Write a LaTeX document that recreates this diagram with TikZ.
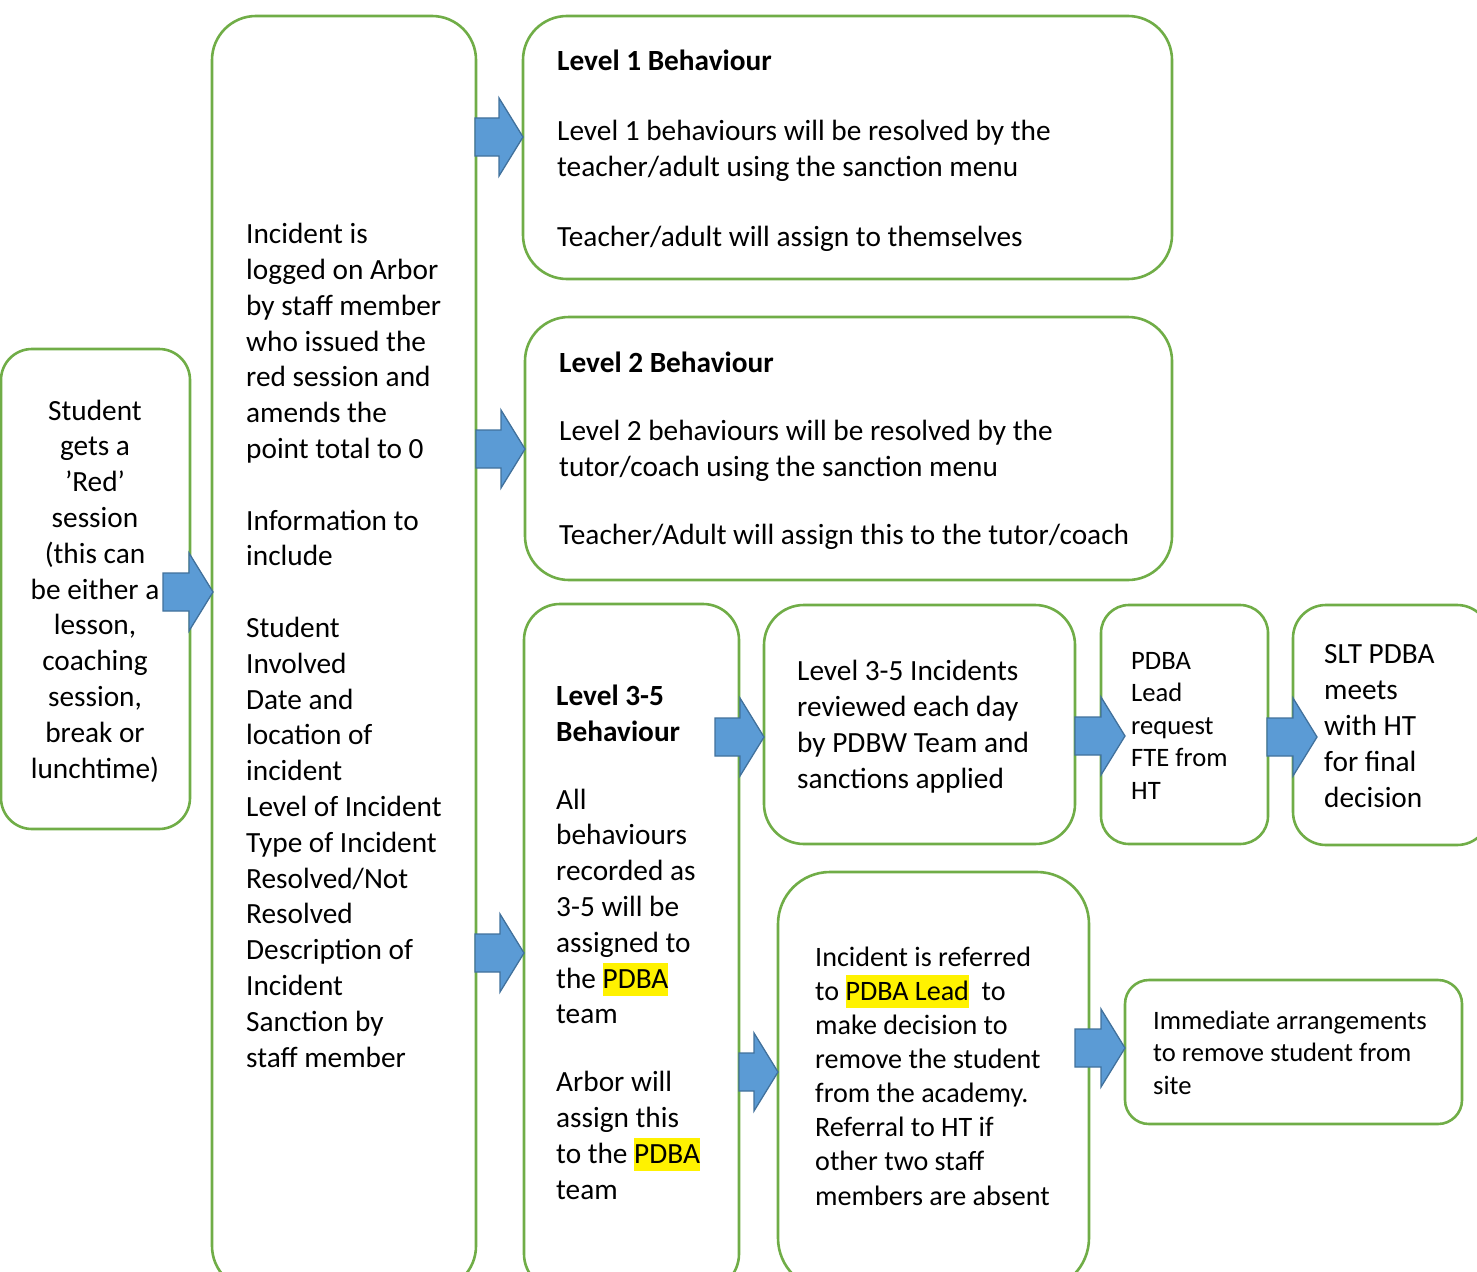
\documentclass[tikz,border=0pt]{standalone}
\usepackage{fontspec}
\setmainfont{Carlito}
\usetikzlibrary{calc}
\definecolor{grn}{HTML}{70AD47}
\definecolor{afill}{HTML}{5B9BD5}
\definecolor{aline}{HTML}{41719C}
\tikzset{
  box/.style={draw=grn, line width=2.6pt, fill=white, inner sep=0pt, outer sep=0pt},
  txt/.style={anchor=base west, inner sep=0pt, align=left, font=\fontsize{29.3}{35.8}\selectfont},
  smalltxt/.style={txt, font=\fontsize{26.6}{32.5}\selectfont},
  blockarrow/.style={fill=afill, draw=aline, line width=1.3pt, line join=miter},
}
\newcommand\hl[1]{{\setlength{\fboxsep}{0pt}\colorbox{yellow}{\rule[-8pt]{0pt}{33pt}#1}}}
\newcommand\barrow[2]{%
  \draw[blockarrow, shift={(#1)}] (-#2,-19) -- (-24,-19) -- (-24,-39) -- (0,0) -- (-24,39) -- (-24,19) -- (-#2,19) -- cycle;}
\begin{document}
\begin{tikzpicture}[x=1pt,y=-1pt]
\useasboundingbox (0,0) rectangle (1477,1271);
\clip (0,0) rectangle (1477,1271);
% boxes
\node[box, rounded corners=31pt, minimum width=189pt, minimum height=480pt] (A) at (95.5,589) {};
\node[box, rounded corners=44pt, minimum width=264pt, minimum height=1274pt] (B) at (344,653) {};
\node[box, rounded corners=44pt, minimum width=649pt, minimum height=263pt] (L1) at (847.5,147.5) {};
\node[box, rounded corners=44pt, minimum width=647pt, minimum height=263pt] (L2) at (848.5,448.5) {};
\node[box, rounded corners=36pt, minimum width=215pt, minimum height=686pt] (L3) at (631.5,947) {};
\node[box, rounded corners=40pt, minimum width=311pt, minimum height=239pt] (Rev) at (919.5,724.5) {};
\node[box, rounded corners=28pt, minimum width=167pt, minimum height=239pt] (Lead) at (1184.5,724.5) {};
\node[box, rounded corners=33pt, minimum width=197pt, minimum height=240pt] (SLT) at (1391.5,725) {};
\node[box, rounded corners=52pt, minimum width=311pt, minimum height=418pt] (Ref) at (933.5,1081) {};
\node[box, rounded corners=24pt, minimum width=337pt, minimum height=144pt] (Imm) at (1293.5,1052) {};
% texts (base anchor = baseline of last line)
\node[txt, anchor=base, align=center] (At) at (95,778) {Student\\gets a\\’Red’\\session\\(this can\\be either a\\lesson,\\coaching\\session,\\break or\\lunchtime)};
\node[txt] (Bt) at (246,1067) {Incident is\\logged on Arbor\\by staff member\\who issued the\\red session and\\amends the\\point total to 0\\[35.8pt]Information to\\include\\[35.8pt]Student\\Involved\\Date and\\location of\\incident\\Level of Incident\\Type of Incident\\Resolved/Not\\Resolved\\Description of\\Incident\\Sanction by\\staff member};
\node[txt] (L1t) at (557,246) {\textbf{Level 1 Behaviour}\\[34pt]Level 1 behaviours will be resolved by the\\teacher/adult using the sanction menu\\[34pt]Teacher/adult will assign to themselves};
\node[txt] (L2t) at (559,544) {\textbf{Level 2 Behaviour}\\[32pt]Level 2 behaviours will be resolved by the\\tutor/coach using the sanction menu\\[32pt]Teacher/Adult will assign this to the tutor/coach};
\node[txt] (L3t) at (556,1199) {\textbf{Level 3-5}\\\textbf{Behaviour}\\[32pt]All\\behaviours\\recorded as\\3-5 will be\\assigned to\\the \hl{PDBA}\\team\\[32pt]Arbor will\\assign this\\to the \hl{PDBA}\\team};
\node[txt] (Revt) at (797,788) {Level 3-5 Incidents\\reviewed each day\\by PDBW Team and\\sanctions applied};
\node[smalltxt] (Leadt) at (1131,799) {PDBA\\Lead\\request\\FTE from\\HT};
\node[txt] (SLTt) at (1324,807) {SLT PDBA\\meets\\with HT\\for final\\decision};
\node[txt, font=\fontsize{28.1}{34.1}\selectfont] (Reft) at (815,1205) {Incident is referred\\to \hl{PDBA Lead}\ \ to\\make decision to\\remove the student\\from the academy.\\Referral to HT if\\other two staff\\members are absent};
\node[smalltxt] (Immt) at (1153,1094) {Immediate arrangements\\to remove student from\\site};
% arrow tips
\coordinate (tAB) at (213,592);
\coordinate (tB1) at (L1.west |- 0,137);
\coordinate (tB2) at (L2.west |- 0,449);
\coordinate (tB3) at (L3.west |- 0,953);
\coordinate (t3R) at (Rev.west |- 0,737);
\coordinate (tRL) at ($(Lead.west |- 0,736)+(24,0)$);
\coordinate (tLS) at ($(SLT.west |- 0,737)+(24,0)$);
\coordinate (t3F) at (Ref.west |- 0,1072);
\coordinate (tFI) at (Imm.west |- 0,1048);
\barrow{tAB}{50}
\barrow{tB1}{48}
\barrow{tB2}{49}
\barrow{tB3}{49}
\barrow{t3R}{49}
\barrow{tRL}{50}
\barrow{tLS}{50}
\barrow{t3F}{39}
\barrow{tFI}{50}
\end{tikzpicture}
\end{document}
